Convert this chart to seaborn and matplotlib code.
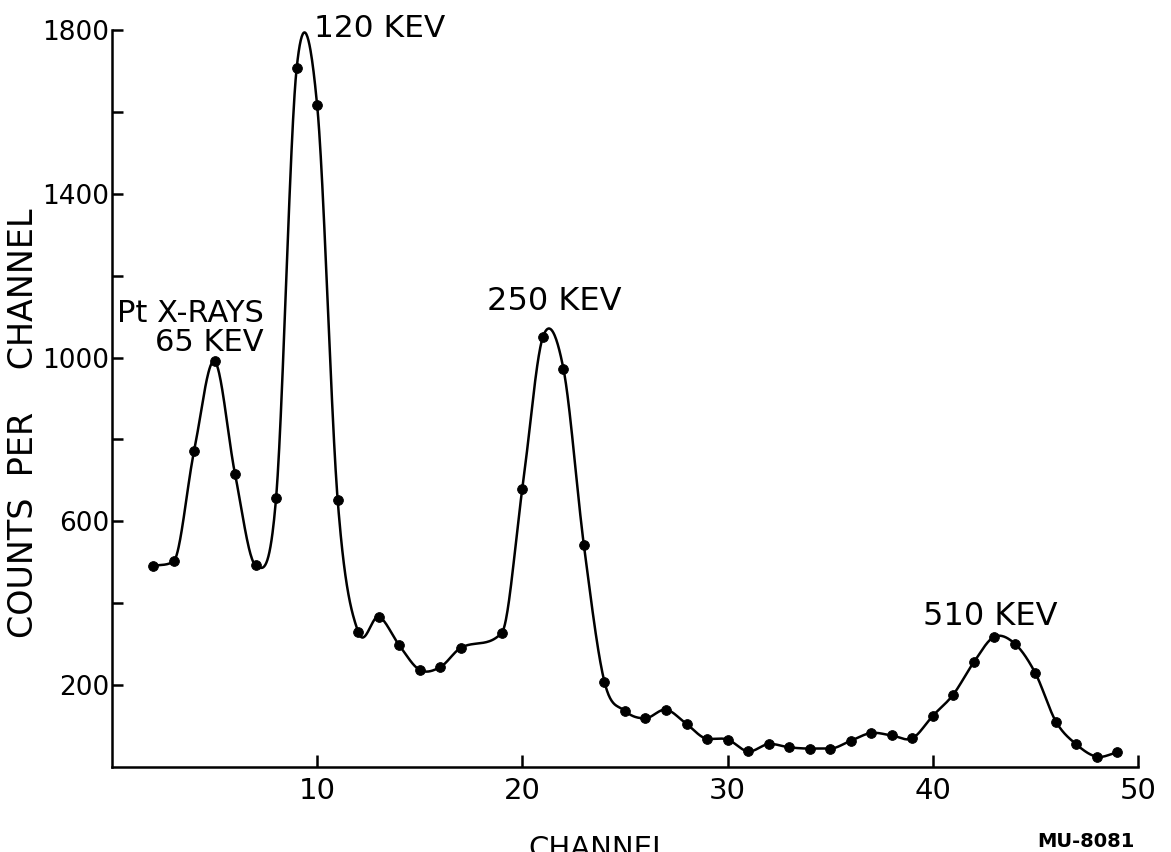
import numpy as np
import pandas as pd
import seaborn as sns
import matplotlib.pyplot as plt
from matplotlib.ticker import FixedLocator


# Canais e contagens lidos do espectro (nao ha ponto no canal 18)
canal = [2, 3, 4, 5, 6, 7, 8, 9, 10, 11, 12, 13, 14, 15, 16, 17,
         19, 20, 21, 22, 23, 24, 25, 26, 27, 28, 29, 30, 31, 32, 33,
         34, 35, 36, 37, 38, 39, 40, 41, 42, 43, 44, 45, 46, 47, 48, 49]
contagens = [491, 502, 771, 991, 715, 493, 658, 1706, 1616, 652, 330, 367,
             297, 237, 244, 291, 328, 680, 1050, 973, 541, 208, 137, 119,
             140, 105, 69, 67, 38, 56, 48, 45, 45, 64, 83, 77, 70, 125,
             177, 256, 318, 301, 229, 111, 55, 25, 36]

ticks_x = [10, 20, 30, 40, 50]
ticks_y_rotulo = [200, 600, 1000, 1400, 1800]
ticks_y_menor = [400, 800, 1200, 1600]

picos = ["Pt X-RAYS", "65 KEV", "120 KEV", "250 KEV", "510 KEV"]


def curva_suave(x, y, passos=40):
    # spline de Hermite (Catmull-Rom) passando pelos pontos medidos,
    # com limite de inclinacao nos trechos monotonos para nao ondular
    x = np.asarray(x, float)
    y = np.asarray(y, float)
    n = len(x)
    d = np.diff(y) / np.diff(x)
    m = np.empty_like(y)
    m[1:-1] = (y[2:] - y[:-2]) / (x[2:] - x[:-2])
    m[0] = d[0]
    m[-1] = d[-1]
    extremo = np.zeros(n, bool)
    extremo[1:-1] = d[:-1] * d[1:] < 0
    for i in range(1, n - 1):
        if not (extremo[i] or extremo[i - 1] or extremo[i + 1]):
            lim = 3 * min(abs(d[i - 1]), abs(d[i]))
            m[i] = np.sign(m[i]) * min(abs(m[i]), lim)
    xs, ys = [], []
    t = np.linspace(0, 1, passos, endpoint=False)
    for i in range(n - 1):
        h = x[i + 1] - x[i]
        h00 = 2 * t**3 - 3 * t**2 + 1
        h10 = t**3 - 2 * t**2 + t
        h01 = -2 * t**3 + 3 * t**2
        h11 = t**3 - t**2
        xs.append(x[i] + t * h)
        ys.append(h00 * y[i] + h10 * h * m[i] + h01 * y[i + 1] + h11 * h * m[i + 1])
    xs.append([x[-1]])
    ys.append([y[-1]])
    return np.concatenate(xs), np.concatenate(ys)


dados = pd.DataFrame({"canal": canal, "contagens": contagens})
cx, cy = curva_suave(canal, contagens)
curva = pd.DataFrame({"canal": cx, "contagens": cy})

sns.set_style("ticks")
plt.rcParams["font.family"] = ["DejaVu Sans"]
plt.rcParams["text.color"] = "black"
plt.rcParams["xtick.color"] = "black"
plt.rcParams["ytick.color"] = "black"
plt.rcParams["axes.edgecolor"] = "black"

fig = plt.figure(figsize=(11.71, 8.52), dpi=100)
ax = fig.add_axes([0.0956, 0.0998, 0.8762, 0.865])

sns.lineplot(data=curva, x="canal", y="contagens", color="black",
             linewidth=1.8, sort=False, estimator=None, ax=ax)
sns.scatterplot(data=dados, x="canal", y="contagens", color="black",
                edgecolor="black", s=50, zorder=3, ax=ax)

ax.set_xlim(0, 50)
ax.set_ylim(0, 1800)
sns.despine(ax=ax)
for lado in ["left", "bottom"]:
    ax.spines[lado].set_linewidth(1.8)

ax.xaxis.set_major_locator(FixedLocator(ticks_x))
ax.yaxis.set_major_locator(FixedLocator(ticks_y_rotulo))
ax.yaxis.set_minor_locator(FixedLocator(ticks_y_menor))
ax.tick_params(axis="x", direction="in", length=9, width=1.8, labelsize=21, pad=7)
ax.tick_params(axis="y", which="both", direction="in", length=8, width=1.8,
               labelsize=19, pad=2)

ax.set_xlabel("")
ax.set_ylabel("")
ax.text(0.474, -0.092, "CHANNEL", transform=ax.transAxes, ha="center",
        va="top", fontsize=21)
ax.text(-0.086, 0.467, "COUNTS  PER    CHANNEL", transform=ax.transAxes,
        rotation=90, ha="center", va="center", fontsize=24)

# rotulos dos picos
ax.text(7.4, 1088, picos[0], ha="right", va="baseline", fontsize=22)
ax.text(7.4, 1015, picos[1], ha="right", va="baseline", fontsize=22)
ax.text(9.85, 1783, picos[2], ha="left", va="baseline", fontsize=22.5)
ax.text(18.3, 1117, picos[3], ha="left", va="baseline", fontsize=23)
ax.text(39.5, 346, picos[4], ha="left", va="baseline", fontsize=23)

fig.text(1135 / 1171, 1 - 847 / 852, "MU-8081", ha="right", va="baseline",
         fontsize=14, fontweight="bold")

fig.savefig("out.png", dpi=100)
